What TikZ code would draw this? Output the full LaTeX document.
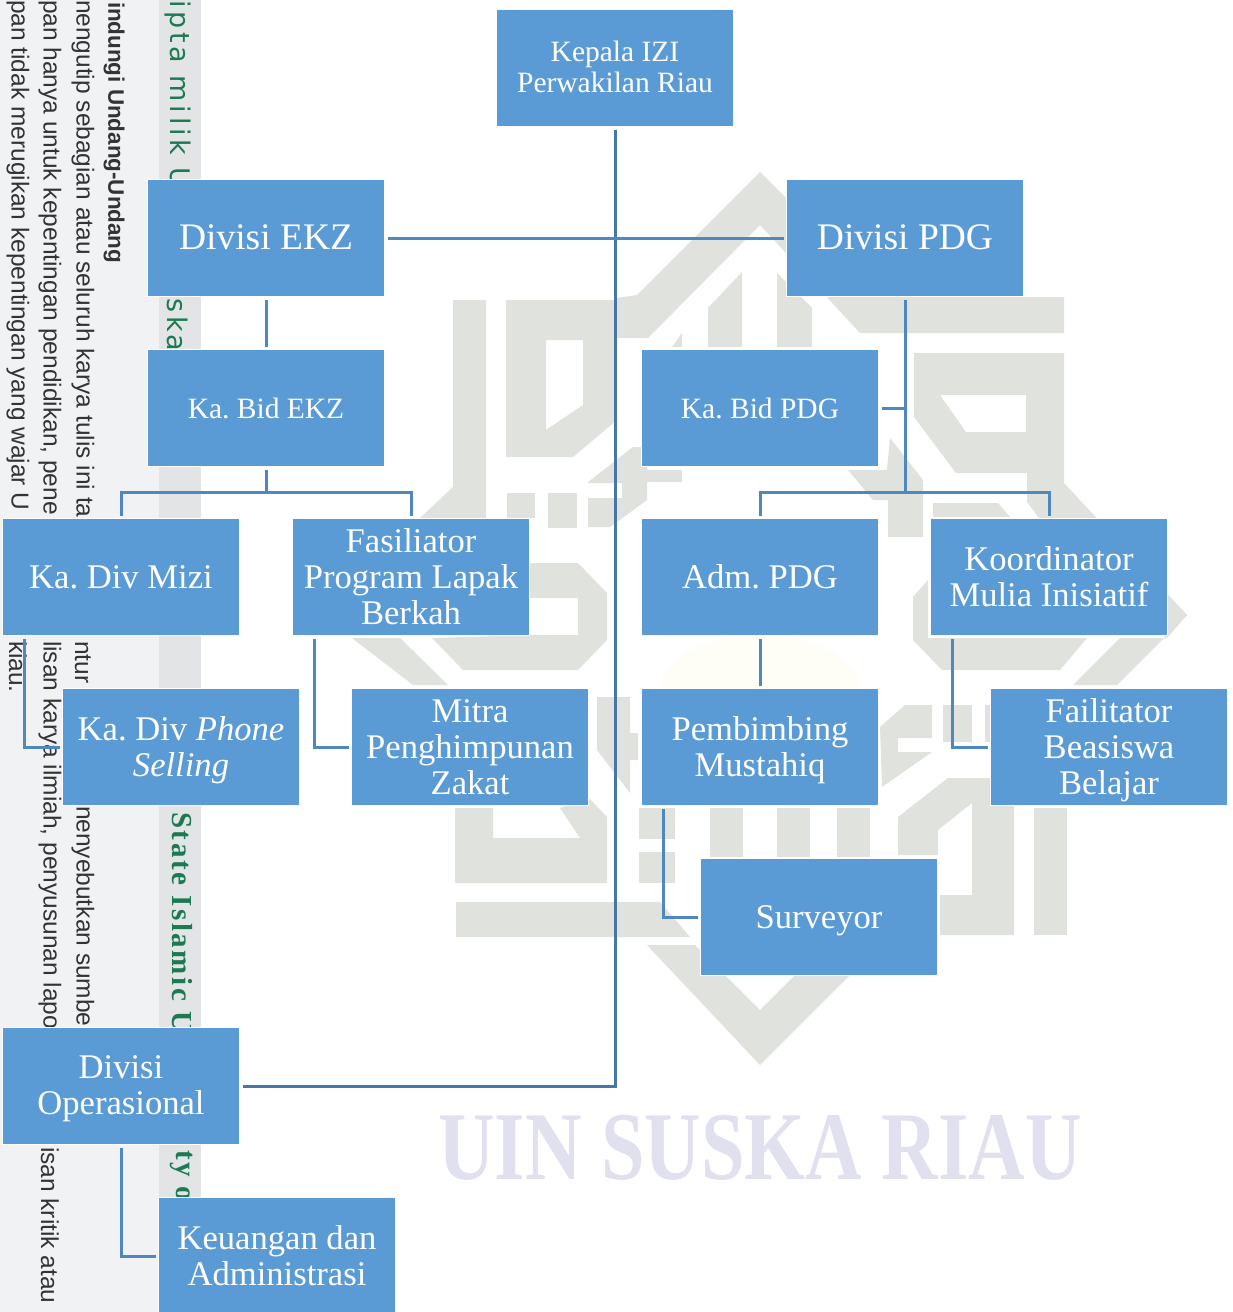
\documentclass[tikz,border=0pt]{standalone}
\usepackage{fontspec}
\setmainfont{Liberation Serif}
\newfontfamily\hdsans{Liberation Sans}
\newfontfamily\stampA[LetterSpace=14]{DejaVu Sans}
\newfontfamily\stampB[LetterSpace=9]{Liberation Serif}
\newcommand{\dn}[2]{\raisebox{-#1pt}[\height][\depth]{#2}}
\definecolor{boxblue}{HTML}{5B9BD5}
\definecolor{linkblue}{HTML}{4F88BE}
\definecolor{spineblue}{HTML}{4478A8}
\definecolor{wmgrey}{HTML}{E0E2DD}
\definecolor{wmviolet}{HTML}{E0E0EE}
\definecolor{stampgreen}{HTML}{1B7A52}
\definecolor{panelgrey}{HTML}{F1F2F4}
\definecolor{stripegrey}{HTML}{E3E4E6}
\definecolor{sidetext}{HTML}{333335}
\definecolor{emblem}{HTML}{FEFEF7}
\tikzset{
  x=1pt,y=-1pt,
  orgbox/.style={rectangle,draw=white,line width=1.5pt,fill=boxblue,text=white,
    minimum width=237pt,minimum height=117pt,inner sep=0pt,outer sep=0pt,align=center},
  fsmall/.style={font=\frenchspacing\fontsize{29.5}{31}\selectfont},
  fmid/.style={font=\frenchspacing\fontsize{34.6}{36}\selectfont},
  fbig/.style={font=\frenchspacing\fontsize{37.5}{40}\selectfont},
  link/.style={draw=linkblue,line width=3pt,line cap=butt,line join=miter},
  spine/.style={draw=spineblue,line width=3pt,line join=miter},
  gapped/.style={shorten <=3pt,shorten >=3pt},
  wm/.style={fill=wmgrey,draw=none,even odd rule},
  sidelabel/.style={rotate=-90,anchor=west,inner sep=0pt,outer sep=0pt,text=sidetext,
    font=\hdsans\fontsize{24.5}{26}\selectfont},
}
\begin{document}
\begin{tikzpicture}
\useasboundingbox (0,0) rectangle (1232,1312);
\clip (0,0) rectangle (1232,1312);
\fill[white] (0,0) rectangle (1232,1312);
% side panel
\fill[panelgrey] (0,0) rectangle (160,1312);
\fill[stripegrey] (159,0) rectangle (201,1312);
\node[sidelabel,font=\hdsans\bfseries\fontsize{22.4}{24}\selectfont] (sa) at (114,2) {indungi Undang-Undang};
\node[sidelabel] (sb) at (83,0) {nengutip sebagian atau seluruh karya tulis ini ta};
\node[sidelabel] (sc) at (83,641) {ntur};
\node[sidelabel] (sd) at (83,806) {nenyebutkan sumbe};
\node[sidelabel] (se) at (50,0) {pan hanya untuk kepentingan pendidikan, pene};
\node[sidelabel] (sf) at (50,641) {lisan karya ilmiah, penyusunan lapo};
\node[sidelabel] (sg) at (50,1147) {isan kritik atau};
\node[sidelabel] (sh) at (18,0) {pan tidak merugikan kepentingan yang wajar U};
\node[sidelabel] (si) at (18,641) {kiau.};
\node[rotate=-90,anchor=west,inner sep=0pt,text=stampgreen,font=\stampA\fontsize{27}{29}\selectfont] (ta) at (178,0) {ipta milik U};
\node[rotate=-90,anchor=west,inner sep=0pt,text=stampgreen,font=\stampA\fontsize{27}{29}\selectfont] (tb) at (178,298) {ska};
\node[rotate=-90,anchor=west,inner sep=0pt,text=stampgreen,font=\stampB\bfseries\fontsize{29}{31}\selectfont] (tc) at (182,812) {State Islamic U};
\node[rotate=-90,anchor=west,inner sep=0pt,text=stampgreen,font=\stampB\bfseries\fontsize{29}{31}\selectfont] (td) at (182,1150) {ty o};
% watermark
\fill[wm] (760,172)--(885,297)--(1064,297)--(1064,333)--(860,333)--(760,225)--(648,338)--(617,338)--(617,298)--(637,295)--cycle;
\fill[wm] (453,300)--(486,300)--(486,518)--(420,518)--(453,487)--cycle;
\fill[wm] (506,300)--(617,300)--(617,420)--(573,457)--(506,457)--cycle (546,340)--(583,340)--(583,405)--(546,430)--cycle;
\fill[wm] (672,347)--(682,333)--(682,347)--cycle;
\fill[wm] (708,308)--(742,272)--(742,347)--(708,347)--cycle;
\fill[wm] (777,273)--(812,308)--(812,347)--(777,347)--cycle;
\fill[wm] (914,353)--(1064,353)--(1064,483)--(1187,615)--(1167,638)--(1100,600)--(1027,502)--(1027,473)--(956,473)--(914,417)--cycle (940,395)--(1026,395)--(1026,432)--(966,432)--cycle;
\fill[wm] (890,438)--(923,480)--(923,537)--(888,537)--(888,500)--(873,500)--(848,470)--(887,470)--cycle;
\fill[wm] (507,493)--(535,493)--(535,518)--(507,518)--cycle;
\fill[wm] (548,493)--(577,493)--(577,528)--(548,528)--cycle;
\fill[wm] (588,482)--(633,447)--(647,447)--(647,470)--(682,470)--(682,482)--(647,482)--(647,500)--(610,527)--(588,527)--(588,498)--(622,498)--(622,483)--(588,483)--cycle;
\fill[wm] (352,638)--(400,638)--(448,685)--(413,685)--cycle;
\fill[wm] (432,638)--(463,670)--(578,670)--(607,640)--(607,593)--(578,563)--(530,563)--(530,598)--(578,598)--(578,635)--(530,635)--cycle;
\fill[wm] (928,580)--(913,597)--(913,640)--(942,670)--(1060,670)--(1087,638)--(928,638)--cycle;
\fill[wm] (1187,615)--(1117,685)--(1073,685)--(1120,638)--(1167,638)--(1167,597)--cycle;
\fill[wm] (933,503)--(998,503)--(1010,517)--(933,517)--cycle;
\fill[wm] (597,697)--(630,697)--(630,733)--(638,733)--(638,760)--(630,760)--(630,793)--(597,750)--cycle;
\fill[wm] (880,727)--(905,705)--(932,705)--(932,738)--(898,738)--(898,752)--(932,752)--(882,787)--cycle;
\fill[wm] (943,705)--(972,705)--(972,742)--(943,742)--cycle;
\fill[wm] (985,705)--(1010,705)--(1010,742)--(985,742)--cycle;
\fill[wm] (455,808)--(493,808)--(493,838)--(580,838)--(560,808)--(588,797)--(607,817)--(607,883)--(455,883)--cycle;
\fill[wm] (639,808)--(675,808)--(675,839)--(639,839)--cycle;
\fill[wm] (639,852)--(675,852)--(675,883)--(639,883)--cycle;
\fill[wm] (710,808)--(743,808)--(743,857)--(710,857)--cycle;
\fill[wm] (777,808)--(810,808)--(810,857)--(777,857)--cycle;
\fill[wm] (837,808)--(870,808)--(870,857)--(837,857)--cycle;
\fill[wm] (898,855)--(898,817)--(948,778)--(1014,778)--(1014,935)--(940,935)--(940,895)--(972,895)--(972,803)--(938,830)--(938,855)--cycle;
\fill[wm] (1034,808)--(1067,808)--(1067,935)--(1034,935)--cycle;
\fill[wm] (456,902)--(660,902)--(690,937)--(456,937)--cycle;
\fill[wm] (647,945)--(760,1065)--(868,957)--(828,942)--(760,1010)--(695,945)--cycle;
\fill[emblem] (760,690) ellipse [x radius=100,y radius=55];
\node[inner sep=0pt,text=wmviolet,font=\bfseries\fontsize{97}{100}\selectfont] (wmtext) at (760,1148) {\scalebox{.807}[1]{UIN SUSKA RIAU}};
% boxes
\node[orgbox,fsmall] (kepala) at (615,68) {\dn{-1}{Kepala IZI}\\\dn{-1}{Perwakilan Riau}};
\node[orgbox,fbig] (ekz) at (266,238) {\dn{-1}{Divisi EKZ}};
\node[orgbox,fbig] (pdg) at (905,238) {\dn{-1}{Divisi PDG}};
\node[orgbox,fsmall] (bidekz) at (266,408) {Ka. Bid EKZ};
\node[orgbox,fsmall] (bidpdg) at (760,408) {Ka. Bid PDG};
\node[orgbox,fmid] (mizi) at (121,577) {Ka. Div Mizi};
\node[orgbox,fmid] (fasil) at (411,577) {Fasiliator\\Program Lapak\\Berkah};
\node[orgbox,fmid] (adm) at (760,577) {Adm. PDG};
\node[orgbox,fmid] (koord) at (1049,577) {Koordinator\\Mulia Inisiatif};
\node[orgbox,fmid] (phone) at (181,747) {\dn{3}{Ka. Div \textit{Phone}}\\\dn{3}{\textit{Selling}}};
\node[orgbox,fmid] (mitra) at (470,747) {Mitra\\Penghimpunan\\Zakat};
\node[orgbox,fmid] (pemb) at (760,747) {\dn{3}{Pembimbing}\\\dn{3}{Mustahiq}};
\node[orgbox,fmid] (failit) at (1109,747) {\dn{3}{Failitator}\\\dn{3}{Beasiswa}\\\dn{3}{Belajar}};
\node[orgbox,fmid] (surv) at (819,917) {\dn{4}{Surveyor}};
\node[orgbox,fmid] (ops) at (121,1086) {\dn{3}{Divisi}\\\dn{3}{Operasional}};
\node[orgbox,fmid] (keu) at (277,1256) {Keuangan dan\\Administrasi};
% connectors
\draw[spine,gapped] (kepala.south) |- (ops.east);
\draw[link,gapped] (ekz.east) -- (pdg.west);
\draw[link,gapped] (ekz.south) -- (bidekz.north);
\coordinate (ekzbus) at (266,492);
\draw[link,shorten <=3pt] (bidekz.south) -- (ekzbus);
\draw[link,shorten <=3pt] (mizi.north) |- (ekzbus);
\draw[link,shorten >=3pt] (ekzbus) -| (fasil.north);
\coordinate (pdgbus) at (905,492);
\coordinate (pdgtap) at (905,408);
\draw[link,shorten <=3pt] (pdg.south) -- (pdgbus);
\draw[link,shorten <=3pt] (bidpdg.east) -- (pdgtap);
\draw[link,shorten >=3pt] (pdgbus) -| (adm.north);
\draw[link,shorten >=3pt] (pdgbus) -| (koord.north);
\draw[link,gapped] (adm.south) -- (pemb.north);
\draw[link,gapped] ([xshift=22pt]koord.south west) |- (failit.west);
\draw[link,gapped] ([xshift=22pt]mizi.south west) |- (phone.west);
\draw[link,gapped] ([xshift=22pt]fasil.south west) |- (mitra.west);
\draw[link,gapped] ([xshift=22pt]pemb.south west) |- (surv.west);
\draw[link,gapped] (ops.south) |- (keu.west);
\end{tikzpicture}
\end{document}
